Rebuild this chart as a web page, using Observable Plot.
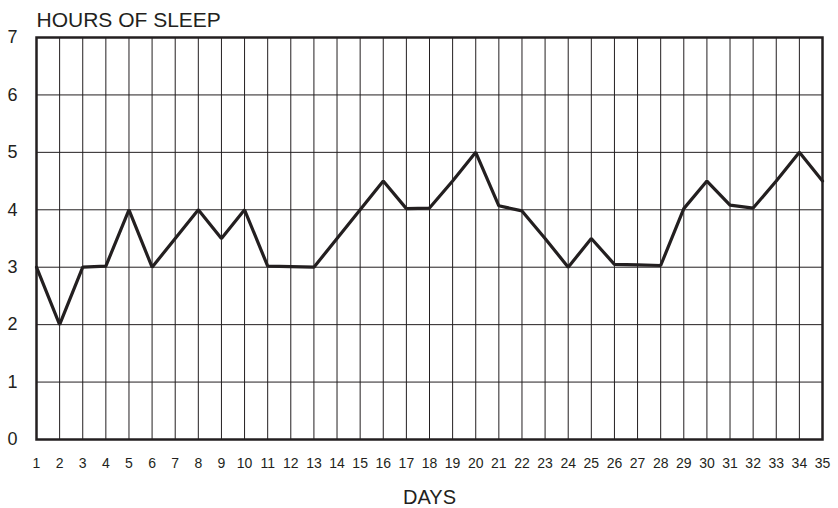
<!DOCTYPE html>
<html>
<head>
<meta charset="utf-8">
<script src="https://cdn.jsdelivr.net/npm/d3@7"></script>
<script src="https://cdn.jsdelivr.net/npm/@observablehq/plot@0.6"></script>
<style>
  html, body { margin: 0; padding: 0; background: #fff; }
  svg { display: block; }
</style>
</head>
<body>
<div id="chart"></div>
<script>
const days = [1,2,3,4,5,6,7,8,9,10,11,12,13,14,15,16,17,18,19,20,21,22,23,24,25,26,27,28,29,30,31,32,33,34,35];
const hours = [3,2,3,3.02,4,3,3.5,4,3.5,4,3.02,3.01,3,3.5,4,4.5,4.02,4.03,4.5,5,4.07,3.98,3.5,3,3.5,3.05,3.04,3.03,4.02,4.5,4.08,4.03,4.5,5,4.5];
const yTicks = [0,1,2,3,4,5,6,7];
const yTitle = "HOURS OF SLEEP";
const xTitle = "DAYS";

const data = days.map((d, i) => ({day: d, hours: hours[i]}));
const ink = "#231f20";

const chart = Plot.plot({
  width: 838,
  height: 508,
  marginLeft: 36,
  marginRight: 16,
  marginTop: 37,
  marginBottom: 69,
  style: {fontFamily: "'Liberation Sans', Arial, Helvetica, sans-serif", color: ink, background: "#fff"},
  x: {domain: [1, 35], label: null},
  y: {domain: [0, 7], label: null},
  marks: [
    Plot.gridX(days, {stroke: ink, strokeOpacity: 1, strokeWidth: 1}),
    Plot.gridY(yTicks, {stroke: ink, strokeOpacity: 1, strokeWidth: 1}),
    Plot.axisX(days, {tickSize: 0, tickPadding: 19, fontSize: 14, fill: ink, label: null, tickFormat: d => String(d)}),
    Plot.axisY(yTicks, {tickSize: 0, tickPadding: 19, fontSize: 18, fill: ink, label: null, tickFormat: d => String(d)}),
    Plot.line(data, {x: "day", y: "hours", stroke: ink, strokeWidth: 3.2, strokeLinejoin: "miter"}),
    Plot.frame({stroke: ink, strokeWidth: 2.5}),
    Plot.text([yTitle], {frameAnchor: "top-left", dy: -25, dx: 0, textAnchor: "start", fontSize: 21, fill: ink, text: d => d}),
    Plot.text([xTitle], {frameAnchor: "bottom", dy: 64, fontSize: 20, fill: ink, text: d => d})
  ]
});
document.getElementById("chart").appendChild(chart);
</script>
</body>
</html>
